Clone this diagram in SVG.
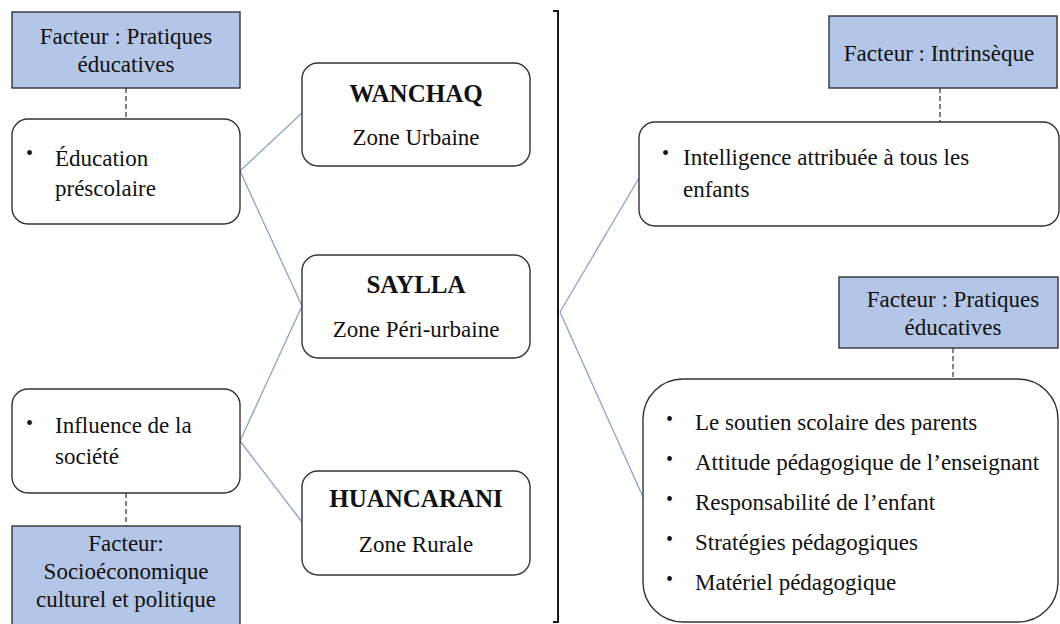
<svg xmlns="http://www.w3.org/2000/svg" width="1060" height="624" viewBox="0 0 1060 624">
<style>
  text { font-family: "Liberation Serif", "Times New Roman", serif; fill: #111; }
  .t { font-size: 23px; }
  .c { text-anchor: middle; }
  .b { font-size: 25px; font-weight: bold; }
  .bul { font-size: 20px; }
  .fac { fill: #b4c6e7; stroke: #333; stroke-width: 1.4; }
  .box { fill: #fff; stroke: #333; stroke-width: 1.4; }
  .dash { stroke: #333; stroke-width: 1.2; stroke-dasharray: 5 3; fill: none; }
  .con { stroke: #8aa3c6; stroke-width: 1.3; fill: none; }
</style>
<rect width="1060" height="624" fill="#fff"/>

<g id="connectors">
  <line class="con" x1="240" y1="171" x2="302" y2="113"/>
  <line class="con" x1="240" y1="171" x2="302" y2="306"/>
  <line class="con" x1="240" y1="441" x2="302" y2="306"/>
  <line class="con" x1="240" y1="441" x2="302" y2="522"/>
  <line class="con" x1="560" y1="312" x2="639" y2="178"/>
  <line class="con" x1="560" y1="312" x2="643" y2="497"/>
  <line class="dash" x1="126" y1="88" x2="126" y2="118"/>
  <line class="dash" x1="126" y1="493" x2="126" y2="526"/>
  <line class="dash" x1="940" y1="88" x2="940" y2="122"/>
  <line class="dash" x1="953" y1="348" x2="953" y2="379"/>
</g>

<g id="divider">
  <polyline points="553,11 558,11 558,622 553,622" fill="none" stroke="#1a1a1a" stroke-width="2"/>
</g>

<g id="fac-pratiques-left">
  <rect class="fac" x="12" y="12" width="228" height="76"/>
  <text class="t c" x="126" y="44">Facteur : Pratiques</text>
  <text class="t c" x="126" y="72">éducatives</text>
</g>

<g id="education-prescolaire">
  <rect class="box" x="12" y="119" width="228" height="105" rx="16"/>
  <text class="bul" x="26" y="160">•</text>
  <text class="t" x="55" y="166">Éducation</text>
  <text class="t" x="55" y="196">préscolaire</text>
</g>

<g id="influence-societe">
  <rect class="box" x="12" y="389" width="228" height="104" rx="16"/>
  <text class="bul" x="26" y="430">•</text>
  <text class="t" x="55" y="433">Influence de la</text>
  <text class="t" x="55" y="464">société</text>
</g>

<g id="fac-socio">
  <rect class="fac" x="12" y="526" width="228" height="110"/>
  <text class="t c" x="126" y="551">Facteur:</text>
  <text class="t c" x="126" y="579">Socioéconomique</text>
  <text class="t c" x="126" y="607">culturel et politique</text>
</g>

<g id="wanchaq">
  <rect class="box" x="302" y="63" width="228" height="103" rx="16"/>
  <text class="b c" x="416" y="102">WANCHAQ</text>
  <text class="t c" x="416" y="145">Zone Urbaine</text>
</g>

<g id="saylla">
  <rect class="box" x="302" y="255" width="228" height="103" rx="16"/>
  <text class="b c" x="416" y="293">SAYLLA</text>
  <text class="t c" x="416" y="337">Zone Péri-urbaine</text>
</g>

<g id="huancarani">
  <rect class="box" x="302" y="471" width="228" height="104" rx="16"/>
  <text class="b c" x="416" y="507">HUANCARANI</text>
  <text class="t c" x="416" y="552">Zone Rurale</text>
</g>

<g id="fac-intrinseque">
  <rect class="fac" x="829" y="16" width="228" height="72"/>
  <text class="t c" x="939" y="61">Facteur : Intrinsèque</text>
</g>

<g id="intelligence">
  <rect class="box" x="639" y="122" width="420" height="104" rx="16"/>
  <text class="bul" x="662" y="160">•</text>
  <text class="t" x="683" y="165">Intelligence attribuée à tous les</text>
  <text class="t" x="683" y="197">enfants</text>
</g>

<g id="fac-pratiques-right">
  <rect class="fac" x="839" y="277" width="219" height="71"/>
  <text class="t c" x="953" y="307">Facteur : Pratiques</text>
  <text class="t c" x="953" y="335">éducatives</text>
</g>

<g id="pratiques-list">
  <rect class="box" x="643" y="379" width="415" height="243" rx="40"/>
  <text class="bul" x="666" y="426">•</text>
  <text class="t" x="695" y="430">Le soutien scolaire des parents</text>
  <text class="bul" x="666" y="466">•</text>
  <text class="t" x="695" y="470">Attitude pédagogique de l’enseignant</text>
  <text class="bul" x="666" y="506">•</text>
  <text class="t" x="695" y="510">Responsabilité de l’enfant</text>
  <text class="bul" x="666" y="546">•</text>
  <text class="t" x="695" y="550">Stratégies pédagogiques</text>
  <text class="bul" x="666" y="586">•</text>
  <text class="t" x="695" y="590">Matériel pédagogique</text>
</g>
</svg>
